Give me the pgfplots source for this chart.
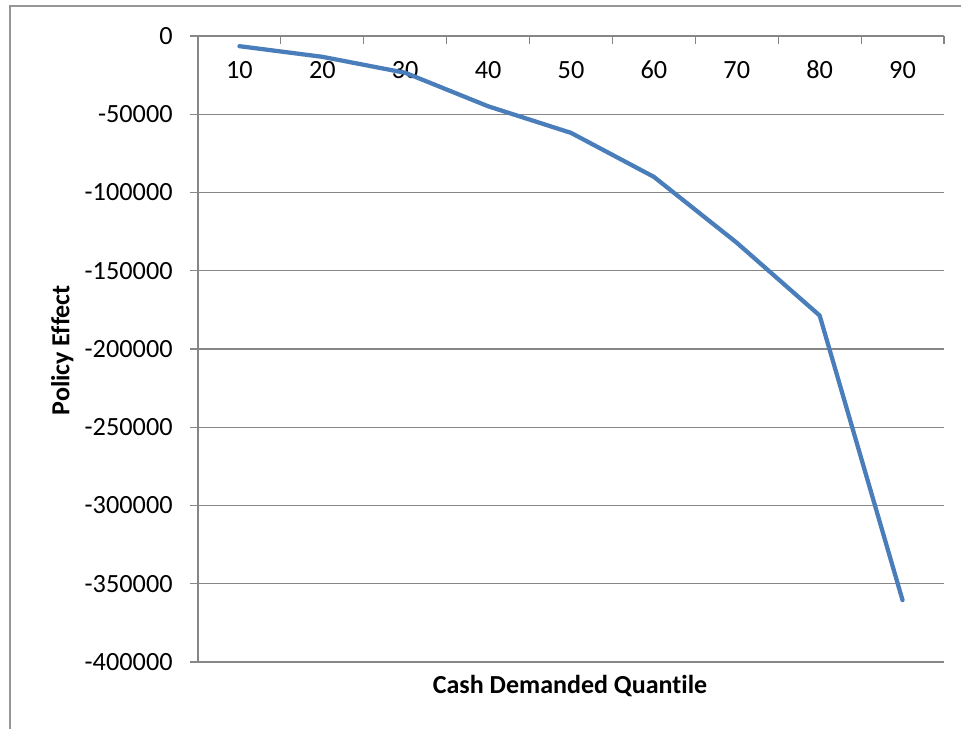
\documentclass[border=0pt]{standalone}
\usepackage{pgfplots}
\pgfplotsset{compat=1.18}
\usepackage{fontspec}
\setmainfont[Ligatures={NoCommon}]{Carlito}
\definecolor{excelblue}{RGB}{74,126,187}
\definecolor{axgray}{RGB}{134,134,134}
\definecolor{framegray}{RGB}{150,150,150}
\pgfplotstableread{
x y
1 -6500
2 -13300
3 -23500
4 -44900
5 -61900
6 -90000
7 -132100
8 -178600
9 -360500
}\datatable
\begin{document}
\begin{tikzpicture}
\useasboundingbox (0,0) rectangle (720.75pt,-546.75pt);
\fill[white] (0,0) rectangle (720.75pt,-546.75pt);
\draw[framegray, line width=1.5pt] (7.5pt,-546.75pt) -- (7.5pt,-4.5pt) -- (720.75pt,-4.5pt);
\begin{axis}[
  at={(148.5pt,-27pt)}, anchor=north west,
  width=559.5pt, height=469.5pt, scale only axis,
  xmin=0.5, xmax=9.5, ymin=-400000, ymax=0,
  axis x line*=top, axis y line*=left,
  axis line style={axgray, line width=0.9pt},
  xtick={0.5,1.5,...,9.5},
  xticklabels={10,20,30,40,50,60,70,80,90},
  x tick label as interval,
  xticklabel style={anchor=base, yshift=-32pt},
  ytick={-400000,-350000,...,0},
  scaled y ticks=false,
  /pgf/number format/fixed,
  /pgf/number format/1000 sep={},
  /pgf/number format/assume math mode=true,
  tick align=inside,
  major tick length=6pt,
  tick style={axgray, line width=0.9pt},
  ytick style={xshift=-6pt},
  yticklabel style={xshift=-15.5pt},
  ymajorgrids,
  major grid style={axgray, line width=0.9pt},
  tick label style={font=\fontsize{19.7}{22}\selectfont, text=black},
  xlabel={Cash Demanded Quantile},
  ylabel={Policy Effect},
  every axis x label/.style={at={(axis description cs:0.4987,-0.038)}, anchor=center, font=\bfseries\fontsize{19.5}{22}\selectfont},
  every axis y label/.style={at={(axis description cs:-0.182,0.498)}, anchor=center, rotate=90, font=\bfseries\fontsize{19.5}{22}\selectfont},
  clip=false,
]
\addplot[excelblue, line width=3.2pt, line join=round, line cap=round] table[x=x,y=y] {\datatable};
\end{axis}
\end{tikzpicture}
\end{document}
